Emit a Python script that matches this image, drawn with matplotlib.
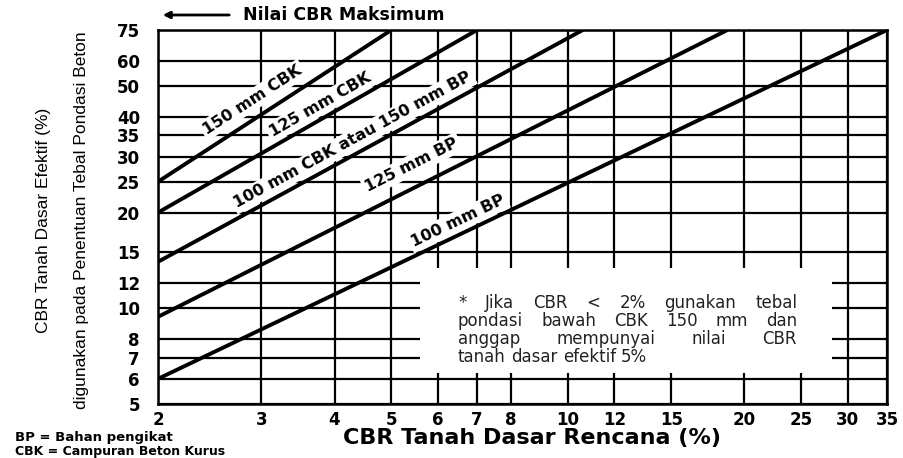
import numpy as np
import matplotlib.pyplot as plt
from matplotlib.patches import Rectangle

# sumbu (skala log)
x_ticks = [2, 3, 4, 5, 6, 7, 8, 10, 12, 15, 20, 25, 30, 35]
y_ticks = [5, 6, 7, 8, 10, 12, 15, 20, 25, 30, 35, 40, 50, 60, 75]

# garis tebal pondasi: titik awal dan akhir (CBR rencana, CBR efektif)
line_names = ['150 mm CBK', '125 mm CBK', '100 mm CBK atau 150 mm BP',
              '125 mm BP', '100 mm BP']
cbr_start = [2, 2, 2, 2, 2]
eff_start = [25, 20, 14, 9.4, 6]
cbr_end = [5, 7, 10.6, 18.7, 35]
eff_end = [75, 75, 75, 75, 75]

note_lines = ['* Jika CBR < 2% gunakan tebal',
              'pondasi bawah CBK 150 mm dan',
              'anggap mempunyai nilai CBR',
              'tanah dasar efektif 5%']

W, H = 904, 458
fig = plt.figure(figsize=(W / 100, H / 100), dpi=100)
ax = fig.add_axes([158 / W, 1 - 404 / H, (887 - 158) / W, (404 - 30) / H])
ax.set_xscale('log')
ax.set_yscale('log')
ax.set_xlim(2, 35)
ax.set_ylim(5, 75)

# grid manual
for xv in x_ticks:
    ax.axvline(xv, color='black', lw=1.6, zorder=1)
for yv in y_ticks:
    ax.axhline(yv, color='black', lw=1.6, zorder=1)

# kotak putih untuk catatan
ax.add_patch(Rectangle((5.59, 6.25), 28.2 - 5.59, 13.4 - 6.25,
                       facecolor='white', edgecolor='none', zorder=2))

for x0, y0, x1, y1 in zip(cbr_start, eff_start, cbr_end, eff_end):
    ax.plot([x0, x1], [y0, y1], color='black', lw=2.8, zorder=3,
            solid_capstyle='butt')

# label garis
label_pos = [(2.90, 45.2), (3.78, 43.6), (4.30, 33.8), (5.42, 28.2), (6.50, 18.8)]
for name, (lx, ly), x0, y0, x1, y1 in zip(line_names, label_pos, cbr_start,
                                          eff_start, cbr_end, eff_end):
    p0 = ax.transData.transform((x0, y0))
    p1 = ax.transData.transform((x1, y1))
    ang = np.degrees(np.arctan2(p1[1] - p0[1], p1[0] - p0[0]))
    ax.text(lx, ly, name, rotation=ang, rotation_mode='anchor', ha='center',
            va='center', fontsize=11.5, fontweight='bold', zorder=4,
            bbox=dict(facecolor='white', edgecolor='none', pad=2))

ax.set_xticks(x_ticks)
ax.set_xticklabels([str(v) for v in x_ticks])
ax.set_yticks(y_ticks)
ax.set_yticklabels([str(v) for v in y_ticks])
ax.minorticks_off()
ax.tick_params(axis='both', length=0, labelsize=12)
ax.tick_params(axis='x', pad=5)
ax.tick_params(axis='y', pad=13)
for lab in ax.get_xticklabels() + ax.get_yticklabels():
    lab.set_fontweight('bold')
for sp in ax.spines.values():
    sp.set_linewidth(1.8)
    sp.set_zorder(5)

# judul sumbu
fig.text(532 / W, 1 - 438 / H, 'CBR Tanah Dasar Rencana (%)', ha='center',
         va='center', fontsize=16, fontweight='bold')
fig.text(44 / W, 1 - 220 / H, 'CBR Tanah Dasar Efektif (%)', rotation=90,
         ha='center', va='center', fontsize=12.5, family='Liberation Sans')
fig.text(82 / W, 1 - 220 / H, 'digunakan pada Penentuan Tebal Pondasi Beton',
         rotation=90, ha='center', va='center', fontsize=12.5,
         family='Liberation Sans')

# panah nilai maksimum
ax.annotate('', xy=(160 / W, 1 - 15 / H), xytext=(232 / W, 1 - 15 / H),
            xycoords='figure fraction', textcoords='figure fraction',
            arrowprops=dict(arrowstyle='-|>', lw=2, color='black',
                            mutation_scale=10))
fig.text(243 / W, 1 - 15 / H, 'Nilai CBR Maksimum', ha='left', va='center',
         fontsize=12.5, fontweight='bold')

# keterangan singkatan
fig.text(15 / W, 1 - 437 / H, 'BP = Bahan pengikat', ha='left', va='center',
         fontsize=9.5, fontweight='bold')
fig.text(15 / W, 1 - 451 / H, 'CBK = Campuran Beton Kurus', ha='left',
         va='center', fontsize=9, fontweight='bold')

# catatan, rata kiri-kanan
renderer = fig.canvas.get_renderer()
left, right = 458, 797
note_size = 12
for i, line in enumerate(note_lines):
    ypx = 303 + i * 18
    words = line.split()
    texts = [fig.text(0, 1 - ypx / H, w, ha='left', va='center',
                      fontsize=note_size, color='#222222') for w in words]
    widths = [t.get_window_extent(renderer).width for t in texts]
    if i < len(note_lines) - 1:
        gap = (right - left - sum(widths)) / (len(words) - 1)
    else:
        gap = 0.32 * note_size * 100 / 72
    xpos = left
    for t, w in zip(texts, widths):
        t.set_x(xpos / W)
        xpos += w + gap

fig.savefig('out.png', dpi=100)
